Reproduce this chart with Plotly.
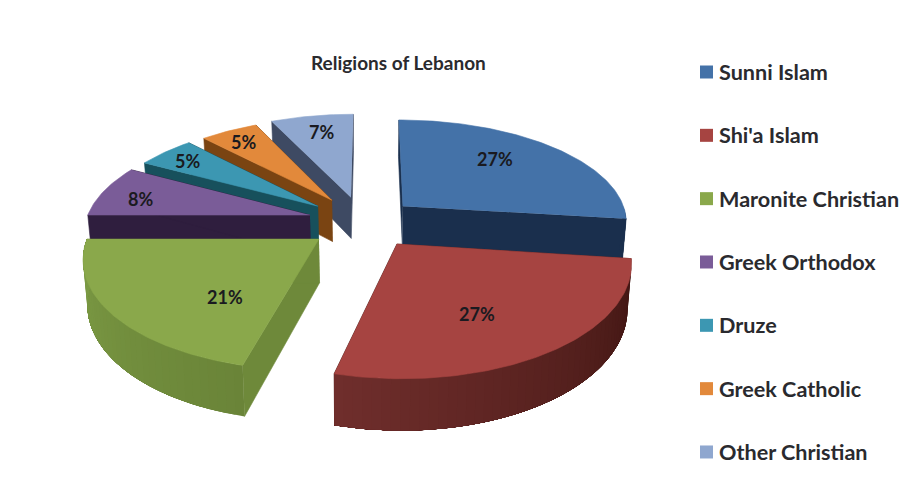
import math
import plotly.graph_objects as go

# Chart data
categories = ["Sunni Islam", "Shi'a Islam", "Maronite Christian", "Greek Orthodox",
              "Druze", "Greek Catholic", "Other Christian"]
shares = [27, 27, 21, 8, 5, 5, 7]
chart_title = "Religions of Lebanon"

# Slice colours: top surface, radial walls, outer wall at the start and end of each arc
TOP = ["#4472A8", "#A64441", "#8AA84B", "#7A5C98", "#3C97B2", "#E2893B", "#8FA7CF"]
WALL = ["#1A2F4D", "#4A1B18", "#6E893A", "#2F1E3E", "#17505C", "#7A4412", "#3E4A63"]
ARC_A = ["#1A2F4D", "#3F1512", "#6A8438", "#2F1E3E", "#17505C", "#7A4412", "#3E4A63"]
ARC_B = ["#1A2F4D", "#702E2C", "#7D9C45", "#2F1E3E", "#17505C", "#7A4412", "#3E4A63"]

# Perspective camera for the tilted pie, and where each pulled-out slice sits on the ground plane
VANISH_X, HORIZON_Y = 370.0, -500.0
FOCAL_X, FOCAL_Y = 1585.0, 5000.0
THICKNESS = 295.0
FOOT_SCALE = 0.985
APEX_X = [0.147, 0.114, -0.218, -0.265, -0.232, -0.171, -0.086]
APEX_Z = [7.08, 6.72, 6.766, 6.993, 7.08, 7.14, 7.17]
RADIUS_X = [0.985, 0.98, 0.99, 0.98, 0.96, 0.95, 0.97]
RADIUS_Z = [0.985, 1.03, 1.02, 0.98, 0.96, 0.95, 0.97]
PAINT_ORDER = [6, 5, 4, 3, 0, 2, 1]

LABEL_X = [495, 477, 225, 140, 187, 243, 321]
LABEL_Y = [159, 314, 297, 199, 161, 142, 132]

FONT = "Lato"
INK = "#1A1A20"


def project(x, z, lowered=False):
    """World point on the pie's top (or bottom) plane to page pixels."""
    if lowered:
        return (VANISH_X + FOOT_SCALE * FOCAL_X * x / z,
                HORIZON_Y + (FOCAL_Y + THICKNESS) / z)
    return VANISH_X + FOCAL_X * x / z, HORIZON_Y + FOCAL_Y / z


def mix(a, b, t):
    ca = [int(a[i:i + 2], 16) for i in (1, 3, 5)]
    cb = [int(b[i:i + 2], 16) for i in (1, 3, 5)]
    return "#%02X%02X%02X" % tuple(round(p + (q - p) * t) for p, q in zip(ca, cb))


def polygon(points, color, edge=0.6):
    return go.Scatter(x=[p[0] for p in points], y=[p[1] for p in points],
                      mode="lines", fill="toself", fillcolor=color,
                      line=dict(color=color, width=edge),
                      hoverinfo="skip", showlegend=False)


fig = go.Figure()

# Angular extent of each slice, clockwise from twelve o'clock
total = sum(shares)
starts, ends, running = [], [], 0.0
for value in shares:
    starts.append(running)
    running += 360.0 * value / total
    ends.append(running)

for i in PAINT_ORDER:
    ax, az = APEX_X[i], APEX_Z[i]

    def rim(deg):
        rad = math.radians(deg)
        return ax + RADIUS_X[i] * math.sin(rad), az + RADIUS_Z[i] * math.cos(rad)

    # Radial walls go first so the outer wall and top can cover any that face away
    for deg in (starts[i], ends[i]):
        rx, rz = rim(deg)
        fig.add_trace(polygon([project(ax, az), project(rx, rz),
                               project(rx, rz, True), project(ax, az, True)], WALL[i]))

    # Outer wall, only where it faces the viewer. Each band runs on to the far end
    # of the arc and the next band paints over it, so no seams show between shades.
    lo, hi = max(starts[i], 90.0), min(ends[i], 270.0)
    if lo < hi:
        steps = max(1, int((hi - lo) / 2))
        for s in range(steps):
            d0 = lo + (hi - lo) * s / steps
            arc = [d0 + (hi - d0) * k / 60 for k in range(61)]
            tops = [project(*rim(d)) for d in arc]
            feet = [project(*rim(d), True) for d in reversed(arc)]
            shade = mix(ARC_A[i], ARC_B[i], (s + 0.5) / steps)
            fig.add_trace(polygon(tops + feet, shade, edge=0))

    # Top surface
    count = max(2, int(ends[i] - starts[i]))
    outline = [project(ax, az)]
    for s in range(count + 1):
        outline.append(project(*rim(starts[i] + (ends[i] - starts[i]) * s / count)))
    fig.add_trace(polygon(outline, TOP[i]))

# Value labels on the slices
for value, lx, ly in zip(shares, LABEL_X, LABEL_Y):
    fig.add_annotation(x=lx, y=ly, text=f"<b>{value}%</b>", showarrow=False,
                       font=dict(family=FONT, size=18, color=INK))

# Key on the right-hand side
key_y = [72 + 63.33 * n for n in range(len(categories))]
fig.add_trace(go.Scatter(x=[706.5] * len(categories), y=key_y, mode="markers",
                         marker=dict(symbol="square", size=13, color=TOP),
                         hoverinfo="skip", showlegend=False))
for name, ky in zip(categories, key_y):
    fig.add_annotation(x=717, y=ky, text=f"<b>{name}</b>", showarrow=False, xanchor="left",
                       font=dict(family=FONT, size=21.6, color="#2A2A2E"))

fig.add_annotation(x=398, y=62, text=f"<b>{chart_title}</b>", showarrow=False,
                   font=dict(family=FONT, size=19, color="#2A2A2E"))

fig.update_layout(
    width=909, height=493, margin=dict(l=0, r=0, t=0, b=0),
    paper_bgcolor="white", plot_bgcolor="white", showlegend=False,
    xaxis=dict(range=[0, 909], visible=False, fixedrange=True),
    yaxis=dict(range=[493, 0], visible=False, fixedrange=True),
)

fig.write_html("out.html")
